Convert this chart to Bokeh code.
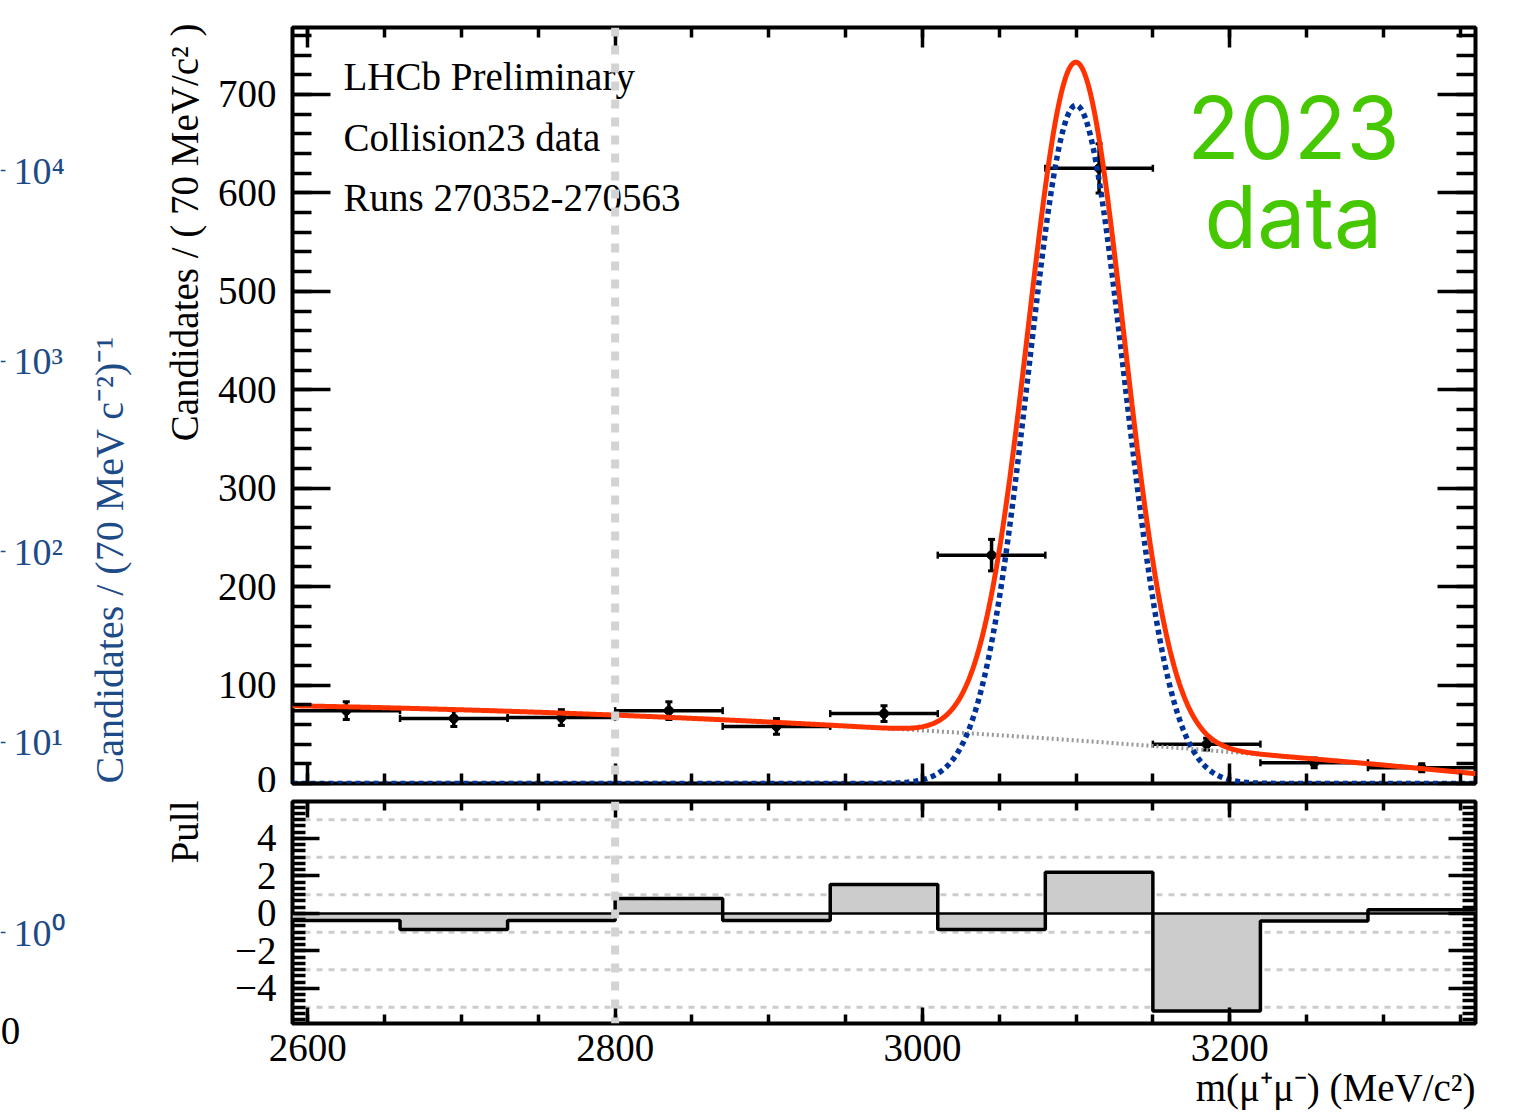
import math
import numpy as np
from bokeh.plotting import figure
from bokeh.layouts import row, column
from bokeh.models import (Range1d, LinearAxis, LogAxis, FixedTicker, Label, Span, Whisker, Title,
                          ColumnDataSource, TeeHead, CustomJSTickFormatter)
from bokeh.embed import file_html
from bokeh.resources import INLINE

# ---------------- data ----------------
bin_edges = [2590, 2660, 2730, 2800, 2870, 2940, 3010, 3080, 3150, 3220, 3290, 3360]
bin_centers = [2625, 2695, 2765, 2835, 2905, 2975, 3045, 3115, 3185, 3255, 3325]
counts = [74, 66, 67, 74, 58, 71, 232, 625, 40, 21, 16]
count_errors = [9, 8, 8, 9, 8, 8, 16, 25, 6, 5, 4]
pulls = [-0.37, -0.85, -0.37, 0.8, -0.37, 1.55, -0.85, 2.2, -5.2, -0.4, 0.2]

# fit model parameters
sig_mean = 3100.0
sig_sigma = 31.0
sig_peak = 689.0
bkg_center = 2975.0
bkg_halfrange = 385.0
bkg_coeffs = [56.2, -34.5, -11.7]

x_ticks = [2600, 2800, 3000, 3200]
x_minor = list(range(2600, 3361, 50))
main_y_ticks = [0, 100, 200, 300, 400, 500, 600, 700]
main_y_minor = list(range(0, 769, 20))
pull_y_ticks = [-4, -2, 0, 2, 4]
pull_y_minor = [k / 3 for k in range(-17, 18)]
pull_ref_lines = [-5, -3, -1, 1, 3, 5]
log_ticks = [1, 10, 100, 1000, 10000]
marker_line = 2800

SERIF = "Liberation Serif"
RED = "#ff3300"
SIGBLUE = "#003399"
AXBLUE = "#1d4b87"
GREEN = "#46c800"

# ---------------- fit curves ----------------
m = np.linspace(bin_edges[0], bin_edges[-1], 900)
t = (m - bkg_center) / bkg_halfrange
bkg = bkg_coeffs[0] + bkg_coeffs[1] * t + bkg_coeffs[2] * t ** 2
sig = sig_peak * np.exp(-0.5 * ((m - sig_mean) / sig_sigma) ** 2)
tot = sig + bkg


def add_axis(p, side, ticks, minor, major_in, minor_in, labels=False, standoff=10, formatter=None):
    ax = LinearAxis(ticker=FixedTicker(ticks=ticks, minor_ticks=minor),
                    axis_line_color=None,
                    major_tick_in=major_in, major_tick_out=0,
                    minor_tick_in=minor_in, minor_tick_out=0,
                    major_tick_line_width=3.5, minor_tick_line_width=3.5,
                    major_tick_line_color="black", minor_tick_line_color="black",
                    major_label_text_font=SERIF,
                    major_label_text_font_size="39px" if labels else "1px",
                    major_label_text_color="black" if labels else None,
                    major_label_standoff=standoff if labels else 0)
    if formatter is not None:
        ax.formatter = formatter
    p.add_layout(ax, side)


minus_fmt = CustomJSTickFormatter(code="return tick < 0 ? '\u2212' + Math.abs(tick) : '' + tick;")

# ---------------- left strip: blue log axis + rotated titles ----------------
# frame covers page x 0..210, y 0..1113 ; 10^0 sits at page y 932, 190.5 px per decade
def logpos(page_y):
    return 10 ** ((932 - page_y) / 190.5)

figL = figure(width=210, height=1113, x_range=Range1d(0, 210),
              y_range=Range1d(logpos(1113), logpos(0)), y_axis_type="log",
              y_axis_location=None, x_axis_location=None,
              min_border_left=0, min_border_right=0, min_border_top=0, min_border_bottom=0,
              outline_line_color=None, output_backend="svg", toolbar_location=None)
figL.xgrid.grid_line_color = None
figL.ygrid.grid_line_color = None
lax = LogAxis(ticker=FixedTicker(ticks=log_ticks, minor_ticks=[]), fixed_location=0,
              axis_line_color=None, major_tick_out=5, major_tick_in=0, minor_tick_out=0, minor_tick_in=0,
              major_tick_line_color=AXBLUE, major_tick_line_width=1.5,
              major_label_text_color=AXBLUE, major_label_text_font=SERIF,
              major_label_text_font_size="38px", major_label_standoff=8)
lax.formatter = CustomJSTickFormatter(code="""
const sup = {0:'\u2070',1:'\u00b9',2:'\u00b2',3:'\u00b3',4:'\u2074'};
return '10' + sup[Math.round(Math.log10(tick))];
""")
figL.add_layout(lax, "right")
figL.add_layout(Label(x=108.5, y=logpos(783), text="Candidates / (70 MeV c\u207b\u00b2)\u207b\u00b9",
                      angle=math.pi / 2, text_align="left", text_baseline="middle",
                      text_font=SERIF, text_font_size="40px", text_color=AXBLUE))
figL.add_layout(Label(x=10, y=logpos(1030), text="0", text_align="center", text_baseline="middle",
                      text_font=SERIF, text_font_size="39px", text_color="black"))
figL.add_layout(Label(x=183.8, y=logpos(23), text="Candidates / ( 70 MeV/c\u00b2 )", angle=math.pi / 2,
                      text_align="right", text_baseline="middle",
                      text_font=SERIF, text_font_size="39px", text_color="black"))
figL.add_layout(Label(x=183.8, y=logpos(800), text="Pull", angle=math.pi / 2,
                      text_align="right", text_baseline="middle",
                      text_font=SERIF, text_font_size="39px", text_color="black"))

# ---------------- main panel ----------------
main = figure(width=1285, height=792, x_range=Range1d(bin_edges[0], bin_edges[-1]),
              y_range=Range1d(0, 768), x_axis_location=None, y_axis_location=None,
              min_border_left=82, min_border_right=20, min_border_top=27, min_border_bottom=9,
              outline_line_color="black", outline_line_width=4,
              output_backend="svg", toolbar_location=None)
main.xgrid.grid_line_color = None
main.ygrid.grid_line_color = None
add_axis(main, "left", main_y_ticks, main_y_minor, 38, 19, labels=True, standoff=16)
add_axis(main, "right", main_y_ticks, main_y_minor, 38, 19)
add_axis(main, "below", x_ticks, x_minor, 20, 10)
add_axis(main, "above", x_ticks, x_minor, 20, 10)

src = ColumnDataSource(dict(
    x=bin_centers, y=counts,
    lo=[c - e for c, e in zip(counts, count_errors)],
    hi=[c + e for c, e in zip(counts, count_errors)],
    xl=bin_edges[:-1], xh=bin_edges[1:]))
main.add_layout(Whisker(source=src, base="x", lower="lo", upper="hi", dimension="height",
                        line_width=3.5, line_color="black",
                        upper_head=TeeHead(size=7, line_width=3), lower_head=TeeHead(size=7, line_width=3)))
main.add_layout(Whisker(source=src, base="y", lower="xl", upper="xh", dimension="width",
                        line_width=3.5, line_color="black",
                        upper_head=TeeHead(size=7, line_width=2.5), lower_head=TeeHead(size=7, line_width=2.5)))
main.scatter("x", "y", source=src, size=9, color="black")

main.line(m, bkg, line_color="#999999", line_width=4, line_dash="2 3")
main.line(m, sig, line_color=SIGBLUE, line_width=5.5, line_dash="5 4")
main.line(m, tot, line_color=RED, line_width=5)

for txt, yy in [("LHCb Preliminary", 718.5), ("Collision23 data", 656.5), ("Runs 270352-270563", 595.6)]:
    main.add_layout(Label(x=2623.2, y=yy, text=txt, text_font=SERIF, text_font_size="39px",
                          text_align="left", text_baseline="middle", text_color="black"))
main.add_layout(Label(x=3241.5, y=666.8, text="2023", text_font="Inter", text_font_size="86px",
                      text_align="center", text_baseline="middle", text_color=GREEN))
main.add_layout(Label(x=3241.5, y=575.3, text="data", text_font="Inter", text_font_size="86px",
                      text_align="center", text_baseline="middle", text_color=GREEN))
main.add_layout(Span(location=marker_line, dimension="height", line_color="#d3d3d3",
                     line_width=8, line_dash="9 9"))

# ---------------- pull panel ----------------
pull = figure(width=1285, height=321, x_range=main.x_range, y_range=Range1d(-5.87, 5.97),
              x_axis_location=None, y_axis_location=None,
              min_border_left=82, min_border_right=20, min_border_top=9, min_border_bottom=90,
              outline_line_color="black", outline_line_width=4,
              output_backend="svg", toolbar_location=None)
pull.xgrid.grid_line_color = None
pull.ygrid.grid_line_color = None
add_axis(pull, "left", pull_y_ticks, pull_y_minor, 27, 13, labels=True, standoff=16, formatter=minus_fmt)
add_axis(pull, "right", pull_y_ticks, pull_y_minor, 27, 13)
add_axis(pull, "below", x_ticks, x_minor, 16, 9, labels=True, standoff=11)
add_axis(pull, "above", x_ticks, x_minor, 16, 9)

for lv in pull_ref_lines:
    pull.add_layout(Span(location=lv, dimension="width", line_color="#cccccc",
                         line_width=3, line_dash="6 6", level="underlay"))
pull.quad(left=bin_edges[:-1], right=bin_edges[1:], bottom=0, top=pulls,
          fill_color="#cccccc", line_color=None)
pull.add_layout(Span(location=0, dimension="width", line_color="black", line_width=2.5))
pull.step(x=bin_edges, y=pulls + [pulls[-1]], mode="after", line_color="black", line_width=3.5)
pull.add_layout(Span(location=marker_line, dimension="height", line_color="#d3d3d3",
                     line_width=8, line_dash="9 9"))
pull.add_layout(Title(text="m(\u03bc\u207a\u03bc\u207b) (MeV/c\u00b2)", align="right",
                      text_font=SERIF, text_font_size="39px", text_font_style="normal",
                      text_color="black", standoff=0), "below")

layout = row(figL, column(main, pull))
open("out.html", "w").write(file_html(layout, INLINE))
